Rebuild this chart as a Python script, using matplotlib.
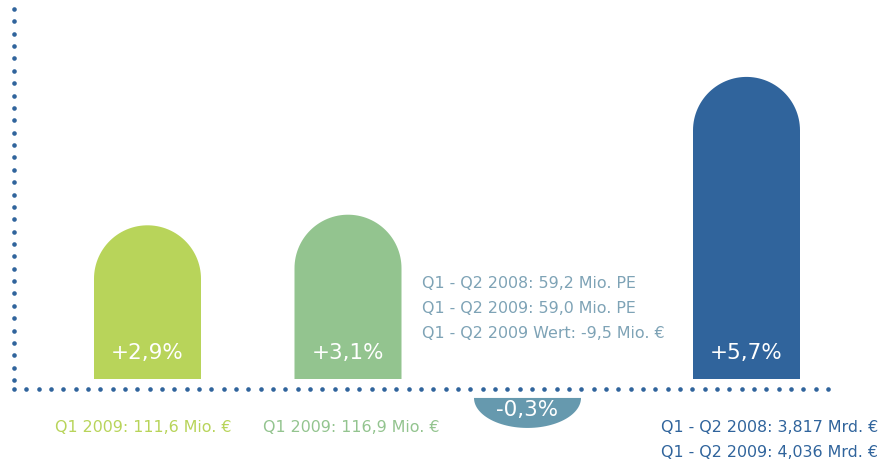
import numpy as np
import matplotlib
matplotlib.use("Agg")
import matplotlib.pyplot as plt
from matplotlib.patches import Polygon

# data
changes = [2.9, 3.1, -0.3, 5.7]
change_labels = ["+2,9%", "+3,1%", "-0,3%", "+5,7%"]
bar_colors = ["#b8d45a", "#93c48f", "#6699ae", "#30649c"]
text_colors = ["#b8d45a", "#93c48f", "#7ea3b6", "#30649c"]
notes = [
    ["Q1 2009: 111,6 Mio. €"],
    ["Q1 2009: 116,9 Mio. €"],
    ["Q1 - Q2 2008: 59,2 Mio. PE",
     "Q1 - Q2 2009: 59,0 Mio. PE",
     "Q1 - Q2 2009 Wert: -9,5 Mio. €"],
    ["Q1 - Q2 2008: 3,817 Mrd. €",
     "Q1 - Q2 2009: 4,036 Mrd. €"],
]

# layout (pixels)
W, H = 883, 465
base_px = 379          # bar base line
px_per_pct = 53.0
bar_x = [147.5, 348, 527.5, 746.5]
bar_w = 107
axis_gap = 10 / px_per_pct
neg_depth = 30 / px_per_pct

fig = plt.figure(figsize=(W / 100, H / 100), dpi=100)
ax = fig.add_axes([0, 0, 1, 1])
ax.set_xlim(0, W)
ax.set_ylim(-(H - base_px) / px_per_pct, base_px / px_per_pct)
ax.axis("off")

font = "DejaVu Sans"


def bar_shape(xc, v):
    r = bar_w / 2
    t = np.linspace(0, np.pi, 60)
    if v >= 0:
        ry = r / px_per_pct
        top = v - ry
        cap = np.column_stack([xc + r * np.cos(t), top + ry * np.sin(t)])
        pts = np.vstack([[xc + r, 0], cap, [xc - r, 0]])
    else:
        y0 = -2 * axis_gap + 0.02
        pts = np.column_stack([xc + r * np.cos(t), y0 - neg_depth * np.sin(t)])
    return pts


for i, v in enumerate(changes):
    ax.add_patch(Polygon(bar_shape(bar_x[i], v), closed=True,
                         facecolor=bar_colors[i], edgecolor="none"))
    ly = 26 / px_per_pct if v > 0 else -2 * axis_gap - 0.2
    ax.text(bar_x[i], ly, change_labels[i], color="white", fontsize=15.5,
            family=font, ha="center", va="center")

# dotted axes
dot_c = "#30649c"
vy = np.linspace(-0.02, (base_px - 9) / px_per_pct, 31)
ax.plot(np.full_like(vy, 14), vy, "o", ms=3.3, color=dot_c, mec="none")
hx = np.linspace(14, 828, 67)
ax.plot(hx, np.full_like(hx, -axis_gap), "o", ms=3.3, color=dot_c, mec="none")

# notes
fs = 11.4
ax.text(55, -(427 - base_px) / px_per_pct, notes[0][0], color=text_colors[0],
        fontsize=fs, family=font, ha="left", va="center")
ax.text(263, -(427 - base_px) / px_per_pct, notes[1][0], color=text_colors[1],
        fontsize=fs, family=font, ha="left", va="center")
for k, line in enumerate(notes[2]):
    ax.text(422, (base_px - 283 - 25 * k) / px_per_pct, line,
            color=text_colors[2], fontsize=fs, family=font,
            ha="left", va="center")
for k, line in enumerate(notes[3]):
    ax.text(878, -(427 + 25 * k - base_px) / px_per_pct, line,
            color=text_colors[3], fontsize=fs, family=font,
            ha="right", va="center")

fig.savefig("out.png", dpi=100)
